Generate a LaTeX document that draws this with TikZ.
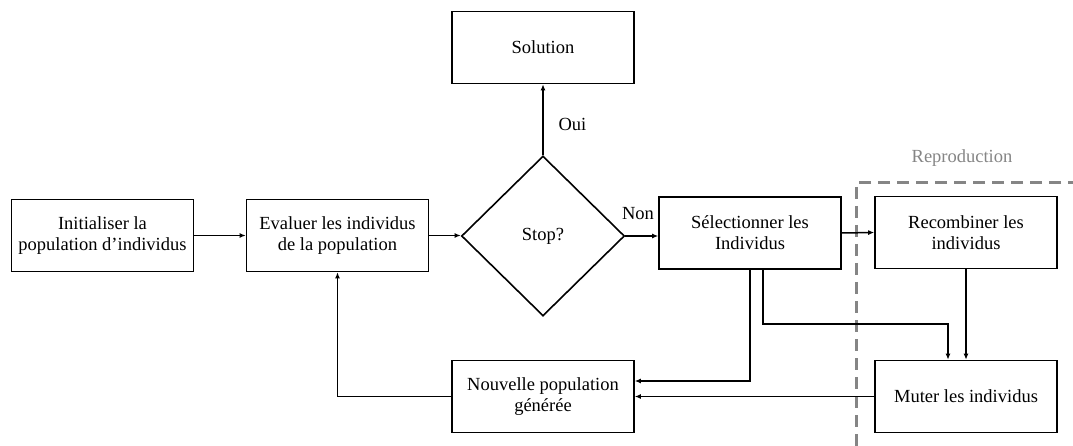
\documentclass[tikz,border=0pt]{standalone}
\usepackage{fontspec}
\setmainfont{Liberation Serif}
\usetikzlibrary{shapes.geometric,arrows.meta,calc}

\tikzset{
  stepbox/.style={draw, line width=1.6pt, minimum width=182pt, minimum height=72pt,
    inner sep=0pt, align=center, font=\fontsize{18.5}{21}\selectfont},
  decision/.style={draw, diamond, line width=1.6pt, minimum width=163pt, minimum height=160pt,
    inner sep=0pt, font=\fontsize{18.5}{21}\selectfont},
  flow/.style={line width=1.5pt, -{Latex[length=6pt,width=5pt]}},
  lbl/.style={font=\fontsize{18.5}{21}\selectfont},
  group/.style={draw=black!48, line width=3pt, dash pattern=on 12pt off 7pt},
}

\begin{document}
\begin{tikzpicture}[x=1pt,y=-1pt]
  \useasboundingbox (0,0) rectangle (1073,446);

  % process boxes
  \node[stepbox] (init) at (102.5,235.5) {Initialiser la\\population d’individus};
  \node[stepbox] (eval) at (337.5,235.5) {Evaluer les individus\\de la population};
  \node[decision] (stop) at (543,236) {Stop?};
  \node[stepbox] (sol)  at (543,47.5) {Solution};
  \node[stepbox] (sel)  at (750,233) {Sélectionner les\\Individus};
  \node[stepbox] (rec)  at (966,232.5) {Recombiner les\\individus};
  \node[stepbox] (mut)  at (966,396.5) {Muter les individus};
  \node[stepbox] (nouv) at (543,396.5) {Nouvelle population\\générée};

  % reproduction group
  \draw[group] (1080,183) -- (856,183) -- (856,452);
  \node[lbl, text=black!48] (repro) at (962,158) {Reproduction};

  % main flow
  \draw[flow] (init.east) -- (init.east -| eval.west);
  \draw[flow] (eval.east) -- (eval.east -| stop.west);
  \draw[flow] (stop.north) -- (sol.south);
  \node[lbl, anchor=west] (oui) at (555,124) {Oui};
  \draw[flow] (stop.east) -- (stop.east -| sel.west);
  \node[lbl] (non) at (638,214) {Non};
  \draw[flow] (sel.east) -- (rec.west);
  \draw[flow] (rec.south) -- (mut.north);

  % selection to new population and mutation
  \coordinate (s1) at (750,381);
  \coordinate (s2) at (763,324);
  \coordinate (s3) at (948,324);
  \draw[flow] (sel.south) -- (s1) -- (s1 -| nouv.east);
  \draw[flow] (sel.south -| s2) -- (s2) -- (s3) -- (s3 |- mut.north);

  % loop back
  \coordinate (b1) at (337.5,396.5);
  \draw[flow] (mut.west) -- (nouv.east);
  \draw[flow] (nouv.west) -- (b1) -- (eval.south);
\end{tikzpicture}
\end{document}
